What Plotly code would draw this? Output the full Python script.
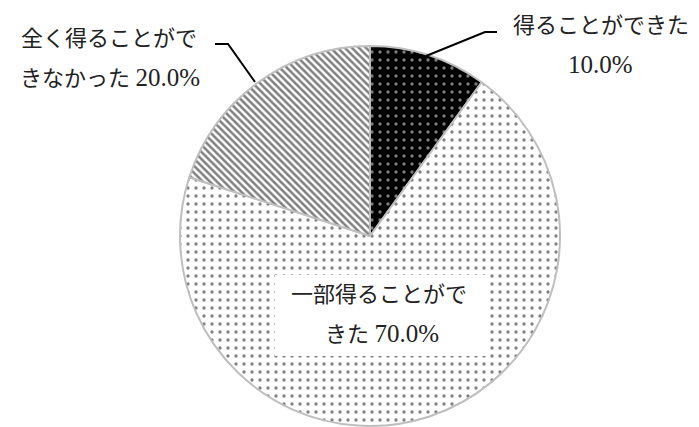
import plotly.graph_objects as go

# Survey answers and their shares (%)
labels = ["得ることができた", "一部得ることができた", "全く得ることができなかった"]
shares = [10.0, 70.0, 20.0]

W, H = 699, 427
FONT = "Liberation Serif, Noto Sans CJK JP, serif"
TXT = "#222222"


def px(x, y):
    """Pixel position -> paper coordinates."""
    return x / W, 1 - y / H


fig = go.Figure()

fig.add_trace(go.Pie(
    labels=labels,
    values=shares,
    sort=False,
    direction="clockwise",
    rotation=0,
    textinfo="none",
    hoverinfo="label+percent",
    showlegend=False,
    domain=dict(x=[(370 - 190) / W, (370 + 190) / W], y=[1 / H, 381 / H]),
    marker=dict(
        colors=["black", "white", "white"],
        line=dict(color="#bfbfbf", width=2),
        pattern=dict(
            shape=[".", ".", "\\"],
            bgcolor=["black", "white", "white"],
            fgcolor=["white", "black", "black"],
            size=[8, 8, 5],
            solidity=[0.13, 0.13, 0.5],
            fillmode="overlay",
        ),
    ),
))

shapes = []

# White box behind the inner label
x0, y1 = px(275, 275)
x1, y0 = px(490, 356)
shapes.append(dict(type="rect", xref="paper", yref="paper", x0=x0, x1=x1, y0=y0, y1=y1,
                   fillcolor="white", line=dict(width=0), layer="above"))


def leader(points):
    path = ""
    for i, (x, y) in enumerate(points):
        xp, yp = px(x, y)
        path += ("M" if i == 0 else "L") + f"{xp},{yp} "
    return dict(type="path", xref="paper", yref="paper", path=path.strip(),
                line=dict(color="black", width=2), layer="above")


shapes.append(leader([(426, 56), (485, 32), (497, 32)]))
shapes.append(leader([(215, 44), (228, 44), (255, 82)]))

annotations = []


def label(text, x, y):
    xp, yp = px(x, y)
    annotations.append(dict(text=text, x=xp, y=yp, xref="paper", yref="paper",
                            xanchor="center", yanchor="middle", showarrow=False,
                            font=dict(family=FONT, size=22, color=TXT)))


def num(v):
    return f'<span style="font-size:25px">{v:.1f}%</span>'


label("得ることができた", 601, 26)
label(num(shares[0]), 600, 65)
label("一部得ることがで", 379, 294)
label("きた " + num(shares[1]), 382, 333)
label("全く得ることがで", 109, 39)
label("きなかった " + num(shares[2]), 110, 78)

fig.update_layout(
    width=W, height=H,
    margin=dict(l=0, r=0, t=0, b=0),
    paper_bgcolor="white",
    plot_bgcolor="white",
    shapes=shapes,
    annotations=annotations,
)

fig.write_html("out.html")
